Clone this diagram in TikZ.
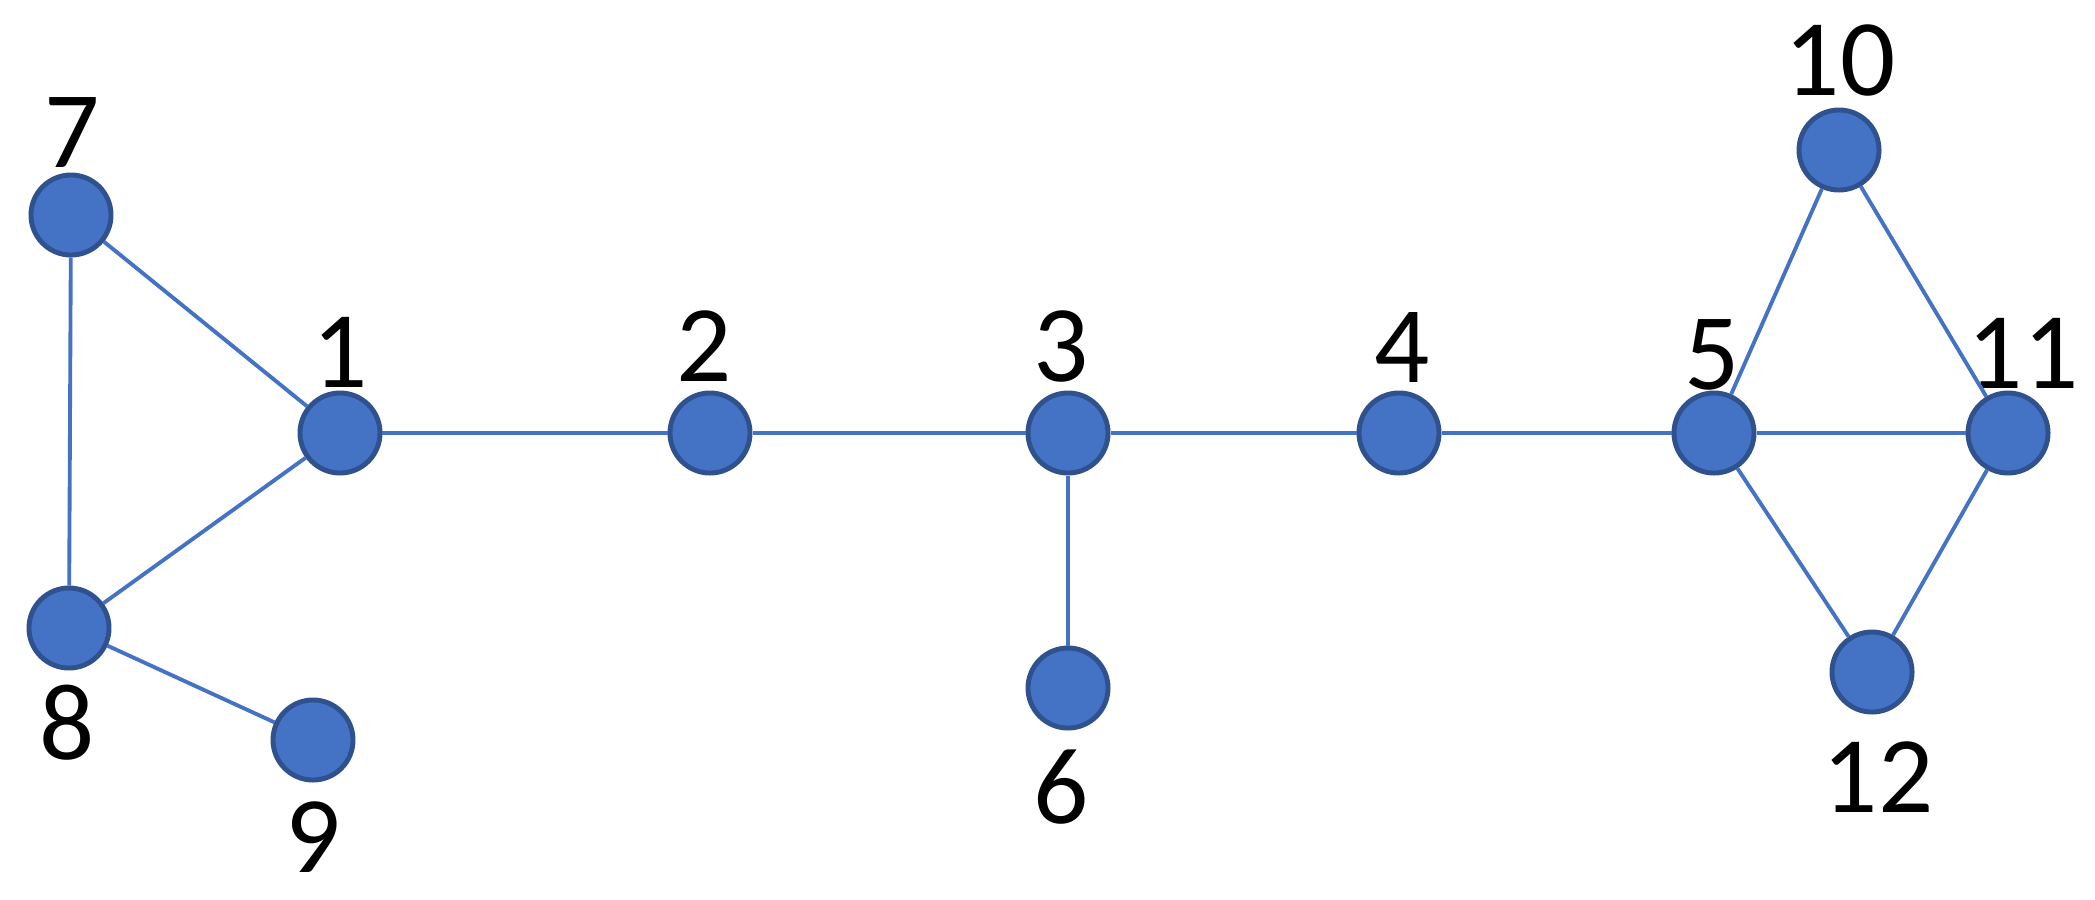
\documentclass[tikz,border=0pt]{standalone}
\usepackage{fontspec}
\setmainfont{Carlito}
\usepackage{xcolor}
\usepackage{tikz}

\definecolor{vfill}{HTML}{4472C4}
\definecolor{vline}{HTML}{2F528F}

\begin{document}
\begin{tikzpicture}[
    x=0.01cm,
    y=-0.01cm,
    vertex/.style={
        circle,
        draw=vline,
        fill=vfill,
        line width=1.4pt,
        minimum size=0.8cm,
        inner sep=0pt
    },
    tag/.style={
        font=\fontsize{31}{37}\selectfont,
        inner sep=0pt
    },
    edge/.style={
        draw=vfill,
        line width=1.1pt
    }
]

\useasboundingbox (0,0) rectangle (2095,899);

\node[vertex] (v1) at (340,433) {};
\node[vertex] (v2) at (710,433) {};
\node[vertex] (v3) at (1068,433) {};
\node[vertex] (v4) at (1399,433) {};
\node[vertex] (v5) at (1714,433) {};
\node[vertex] (v6) at (1068,688) {};
\node[vertex] (v7) at (71,215) {};
\node[vertex] (v8) at (69,628) {};
\node[vertex] (v9) at (313,740) {};
\node[vertex] (v10) at (1839,150) {};
\node[vertex] (v11) at (2008,433) {};
\node[vertex] (v12) at (1872,672) {};

\node[tag] (t1) at (340,352) {1};
\node[tag] (t2) at (704,346) {2};
\node[tag] (t3) at (1061,346) {3};
\node[tag] (t4) at (1402,347) {4};
\node[tag] (t5) at (1712,355) {5};
\node[tag] (t6) at (1061,787) {6};
\node[tag] (t7) at (72,133) {7};
\node[tag] (t8) at (67,723) {8};
\node[tag] (t9) at (313,837) {9};
\node[tag] (t10) at (1840,60) {10};
\node[tag] (t11) at (2023,353) {11};
\node[tag] (t12) at (1878,777) {12};

\draw[edge] (v7) -- (v1);
\draw[edge] (v7) -- (v8);
\draw[edge] (v8) -- (v1);
\draw[edge] (v8) -- (v9);

\draw[edge] (v1) -- (v2);
\draw[edge] (v2) -- (v3);
\draw[edge] (v3) -- (v4);
\draw[edge] (v4) -- (v5);
\draw[edge] (v3) -- (v6);

\draw[edge] (v5) -- (v10);
\draw[edge] (v10) -- (v11);
\draw[edge] (v5) -- (v11);
\draw[edge] (v5) -- (v12);
\draw[edge] (v12) -- (v11);

\end{tikzpicture}
\end{document}
